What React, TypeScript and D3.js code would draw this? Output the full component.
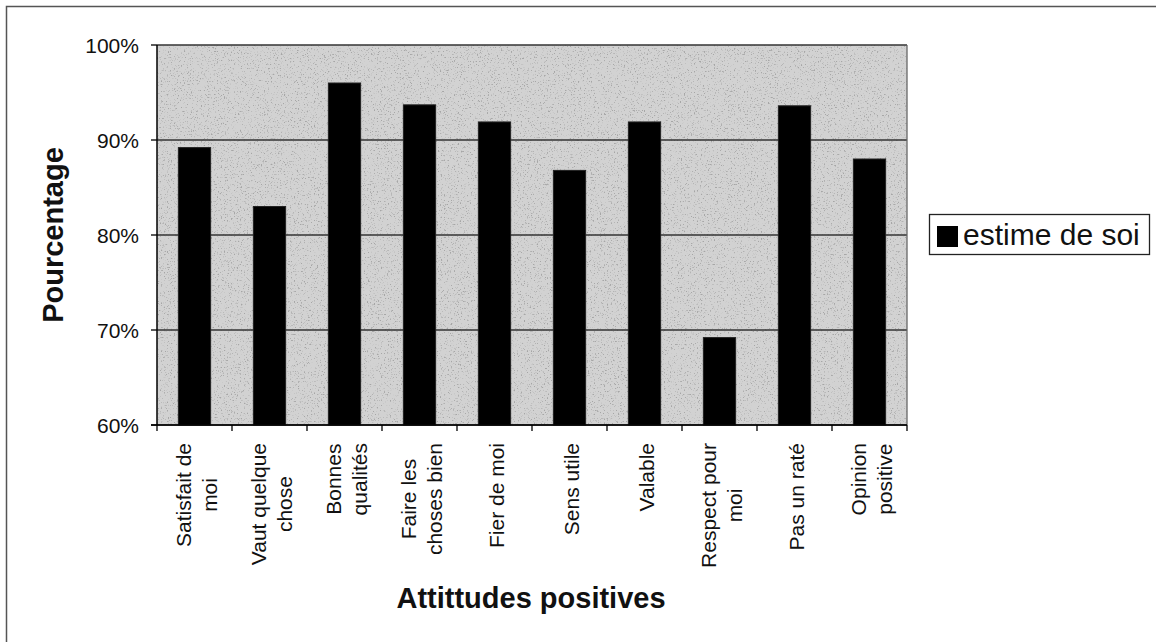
import React from "react";
import * as d3 from "d3";

const categories: string[] = [
  "Satisfait de\nmoi",
  "Vaut quelque\nchose",
  "Bonnes\nqualités",
  "Faire les\nchoses bien",
  "Fier de moi",
  "Sens utile",
  "Valable",
  "Respect pour\nmoi",
  "Pas un raté",
  "Opinion\npositive",
];
const values: number[] = [89.2, 83.0, 96.0, 93.7, 91.9, 86.8, 91.9, 69.2, 93.6, 88.0];
const yTicks: number[] = [60, 70, 80, 90, 100];
const seriesName = "estime de soi";
const yTitle = "Pourcentage";
const xTitle = "Attittudes positives";

const W = 1156;
const H = 642;
const FONT = "'Liberation Sans', Arial, Helvetica, sans-serif";

let ctx: CanvasRenderingContext2D | null = null;
function measure(text: string, font: string): number {
  if (typeof document === "undefined") return text.length * 10;
  if (!ctx) ctx = document.createElement("canvas").getContext("2d");
  if (!ctx) return text.length * 10;
  ctx.font = font;
  return ctx.measureText(text).width;
}

export default function App() {
  const plot = { left: 157, right: 907, top: 45, bottom: 425 };
  const x = d3.scaleBand<string>().domain(categories).range([plot.left, plot.right]).padding(0);
  const y = d3.scaleLinear().domain([60, 100]).range([plot.bottom, plot.top]);
  const barW = x.bandwidth() * 0.43;
  const labelFont = `21px ${FONT}`;
  const lh = 26;

  return (
    <svg width={W} height={H} style={{ position: "absolute", left: 0, top: 0, background: "#fff" }}>
      <defs>
        <filter id="speckle" x="0" y="0" width="100%" height="100%">
          <feTurbulence type="fractalNoise" baseFrequency="0.7" numOctaves="2" seed="7" result="n" />
          <feColorMatrix
            in="n"
            type="matrix"
            values="0 0 0 0 0.38  0 0 0 0 0.38  0 0 0 0 0.38  6 0 0 0 -3.55"
          />
        </filter>
      </defs>
      {/* outer chart border (top & left visible) */}
      <rect x={6.5} y={6.5} width={W + 20} height={H + 20} fill="none" stroke="#555" strokeWidth={1.5} />

      {/* plot area */}
      <rect x={plot.left} y={plot.top} width={plot.right - plot.left} height={plot.bottom - plot.top} fill="#d2d2d2" />
      <rect x={plot.left} y={plot.top} width={plot.right - plot.left} height={plot.bottom - plot.top} fill="#fff" filter="url(#speckle)" />

      {/* gridlines */}
      {yTicks.map((t) => (
        <line key={"g" + t} x1={plot.left} x2={plot.right} y1={y(t)} y2={y(t)} stroke="#333" strokeWidth={1.3} />
      ))}
      <line x1={plot.right} x2={plot.right} y1={plot.top} y2={plot.bottom} stroke="#666" strokeWidth={1.3} />

      {/* bars */}
      {categories.map((c, i) => {
        const cx = (x(c) as number) + x.bandwidth() / 2;
        return (
          <rect
            key={"b" + i}
            x={cx - barW / 2}
            y={y(values[i])}
            width={barW}
            height={y(60) - y(values[i])}
            fill="#000"
            stroke="#222"
            strokeWidth={1}
          />
        );
      })}

      {/* axes */}
      <line x1={plot.left} x2={plot.left} y1={plot.top} y2={plot.bottom} stroke="#000" strokeWidth={1.5} />
      <line x1={plot.left - 6} x2={plot.right} y1={plot.bottom} y2={plot.bottom} stroke="#000" strokeWidth={1.5} />
      {yTicks.map((t) => (
        <g key={"yt" + t}>
          <line x1={plot.left - 6} x2={plot.left} y1={y(t)} y2={y(t)} stroke="#000" strokeWidth={1.3} />
          <text x={139} y={y(t)} dy="0.36em" textAnchor="end" fontFamily={FONT} fontSize={21} fill="#111">
            {t}%
          </text>
        </g>
      ))}
      {d3.range(categories.length + 1).map((i) => {
        const xx = plot.left + i * x.step();
        return <line key={"xt" + i} x1={xx} x2={xx} y1={plot.bottom} y2={plot.bottom + 6} stroke="#000" strokeWidth={1.3} />;
      })}

      {/* category labels */}
      {categories.map((c, i) => {
        const cx = (x(c) as number) + x.bandwidth() / 2;
        const lines = c.split("\n");
        const maxW = Math.max(...lines.map((l) => measure(l, labelFont)));
        const cy = 443 + maxW / 2;
        return (
          <g key={"l" + i} transform={`translate(${cx},${cy}) rotate(-90)`}>
            {lines.map((l, j) => (
              <text
                key={j}
                x={0}
                y={(j - (lines.length - 1) / 2) * lh + 9.5}
                textAnchor="middle"
                fontFamily={FONT}
                fontSize={21}
                fill="#111"
              >
                {l}
              </text>
            ))}
          </g>
        );
      })}

      {/* axis titles */}
      <text
        transform={`translate(63,235) rotate(-90)`}
        textAnchor="middle"
        fontFamily={FONT}
        fontSize={29}
        fontWeight="bold"
        fill="#111"
      >
        {yTitle}
      </text>
      <text x={531} y={608} textAnchor="middle" fontFamily={FONT} fontSize={29} fontWeight="bold" fill="#111">
        {xTitle}
      </text>

      {/* legend */}
      <rect x={929.5} y={214.5} width={220} height={40} fill="#fff" stroke="#222" strokeWidth={1.3} />
      <rect x={937} y={226} width={21} height={21} fill="#000" />
      <text x={963} y={245} fontFamily={FONT} fontSize={30} fill="#111">
        {seriesName}
      </text>
    </svg>
  );
}
